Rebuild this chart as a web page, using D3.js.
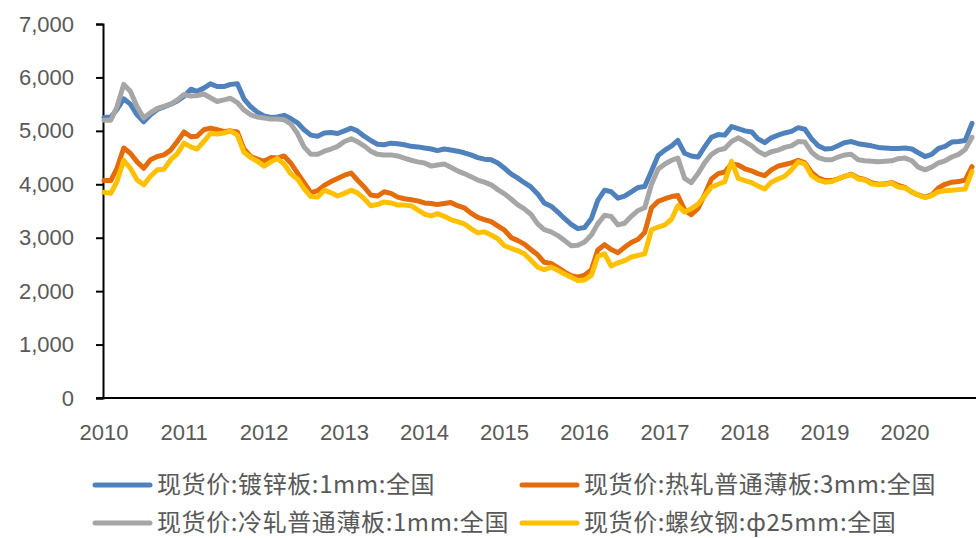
<!DOCTYPE html>
<html>
<head>
<meta charset="utf-8">
<script src="https://cdn.jsdelivr.net/npm/d3@7"></script>
<style>
  html, body { margin: 0; padding: 0; background: #fff; }
  svg { display: block; }
  .tick-label { font-family: "Liberation Sans", Arial, sans-serif; fill: #595959; }
  .legend-label { font-family: "Noto Sans CJK SC", sans-serif; fill: #595959; letter-spacing: 0.6px; }
</style>
</head>
<body>
<svg id="chart" width="976" height="538"></svg>
<script>
// Monthly spot prices, Jan 2010 – Nov 2020 (yuan/ton)
const startMonth = new Date(2010, 0, 1);
const endMonth = new Date(2020, 10, 1);
const months = d3.timeMonth.range(startMonth, d3.timeMonth.offset(endMonth, 1));

const seriesNames = [
  "现货价:镀锌板:1mm:全国",
  "现货价:热轧普通薄板:3mm:全国",
  "现货价:冷轧普通薄板:1mm:全国",
  "现货价:螺纹钢:ф25mm:全国"
];

const galvanized = [
  5250,5260,5400,5600,5500,5300,5170,5300,5400,5450,5500,5560,
  5650,5780,5740,5800,5880,5830,5830,5870,5880,5600,5450,5350,
  5280,5250,5260,5290,5230,5150,5020,4920,4900,4960,4970,4950,
  5000,5050,5000,4900,4820,4750,4740,4770,4760,4740,4710,4700,
  4680,4660,4630,4660,4640,4620,4590,4550,4500,4470,4460,4400,
  4300,4190,4120,4030,3950,3820,3650,3590,3480,3360,3250,3170,
  3190,3360,3700,3890,3860,3740,3780,3860,3940,3960,4250,4540,
  4640,4720,4820,4580,4530,4510,4700,4880,4930,4920,5080,5040,
  5000,4980,4850,4780,4870,4920,4960,4990,5060,5030,4850,4720,
  4660,4670,4720,4780,4800,4760,4740,4720,4690,4680,4670,4670,
  4680,4660,4590,4520,4560,4670,4710,4790,4800,4820,5140
];

const hotRolled = [
  4070,4070,4300,4680,4580,4420,4300,4460,4520,4550,4640,4800,
  4980,4890,4900,5020,5050,5020,4990,5000,4980,4660,4520,4470,
  4430,4500,4490,4530,4400,4210,4030,3840,3880,3980,4050,4110,
  4170,4210,4080,3950,3800,3780,3860,3830,3760,3730,3710,3690,
  3650,3640,3620,3640,3660,3600,3560,3460,3380,3340,3300,3220,
  3140,3000,2950,2880,2780,2680,2540,2520,2440,2360,2290,2260,
  2300,2400,2770,2870,2780,2720,2820,2910,2970,3100,3560,3680,
  3730,3770,3790,3520,3430,3550,3800,4100,4200,4230,4380,4360,
  4290,4250,4200,4160,4270,4340,4370,4400,4450,4400,4220,4120,
  4070,4070,4100,4150,4190,4120,4090,4030,4000,4010,4030,3980,
  3940,3850,3800,3760,3800,3930,4000,4040,4050,4080,4330
];

const coldRolled = [
  5200,5200,5450,5870,5740,5450,5240,5340,5420,5460,5500,5580,
  5680,5650,5660,5690,5620,5550,5580,5610,5530,5390,5300,5260,
  5240,5220,5220,5210,5130,4950,4700,4560,4560,4620,4660,4710,
  4800,4850,4800,4720,4620,4560,4550,4550,4530,4490,4450,4420,
  4400,4340,4360,4380,4320,4250,4200,4140,4080,4040,3990,3900,
  3820,3720,3620,3540,3440,3260,3150,3110,3040,2950,2850,2860,
  2920,3050,3260,3420,3400,3240,3270,3400,3510,3560,4000,4280,
  4380,4450,4490,4110,4030,4200,4400,4560,4640,4670,4800,4870,
  4800,4720,4620,4550,4610,4640,4690,4720,4800,4790,4600,4500,
  4460,4460,4510,4550,4560,4460,4440,4430,4420,4430,4440,4480,
  4490,4440,4320,4270,4320,4400,4440,4510,4560,4650,4880
];

const rebar = [
  3850,3830,4050,4450,4300,4080,3990,4150,4270,4280,4460,4570,
  4770,4700,4660,4800,4950,4940,4960,5000,4920,4600,4500,4430,
  4340,4420,4480,4380,4200,4100,3920,3770,3760,3890,3840,3780,
  3830,3890,3840,3730,3600,3620,3670,3650,3610,3610,3600,3520,
  3440,3410,3450,3400,3340,3300,3260,3170,3090,3110,3050,2980,
  2850,2800,2760,2700,2580,2450,2400,2450,2390,2320,2260,2200,
  2210,2300,2650,2700,2470,2530,2570,2640,2670,2700,3150,3200,
  3240,3350,3600,3480,3540,3630,3780,3950,4000,4050,4430,4110,
  4070,4030,3970,3910,4040,4100,4150,4270,4420,4380,4160,4080,
  4040,4050,4100,4150,4180,4100,4080,4010,3990,4000,4020,3950,
  3930,3860,3800,3750,3790,3860,3880,3890,3900,3910,4240
];

const yTicks = [0, 1000, 2000, 3000, 4000, 5000, 6000, 7000];
const xTickYears = [2010, 2011, 2012, 2013, 2014, 2015, 2016, 2017, 2018, 2019, 2020];
const colors = ["#4F81BD", "#E46C0A", "#A6A6A6", "#FFC000"];

const svg = d3.select("#chart");
const plot = { left: 104, right: 972, top: 24, bottom: 398 };

const x = d3.scaleTime().domain([startMonth, endMonth]).range([plot.left, plot.right]);
const y = d3.scaleLinear().domain([0, 7000]).range([plot.bottom, plot.top]);

// y axis
const yAxis = d3.axisLeft(y).tickValues(yTicks).tickSize(7).tickPadding(22)
  .tickFormat(d3.format(","));
const gy = svg.append("g").attr("transform", `translate(${plot.left - 1},0)`).call(yAxis);
gy.select(".domain").attr("stroke", "#000").attr("stroke-width", 2);
gy.selectAll(".tick line").attr("stroke", "#000").attr("stroke-width", 2);
gy.selectAll(".tick text").attr("class", "tick-label").style("font-size", "22px");

// x axis: baseline only, year labels under January of each year
svg.append("line")
  .attr("x1", plot.left - 8).attr("x2", 976)
  .attr("y1", plot.bottom).attr("y2", plot.bottom)
  .attr("stroke", "#000").attr("stroke-width", 2);

svg.append("g").selectAll("text").data(xTickYears).join("text")
  .attr("class", "tick-label")
  .attr("x", d => x(new Date(d, 0, 1)))
  .attr("y", 440)
  .attr("text-anchor", "middle")
  .style("font-size", "22px")
  .text(d => d);

// series lines
const seriesValues = [galvanized, hotRolled, coldRolled, rebar];
const line = d3.line().x((d, i) => x(months[i])).y(d => y(d));

svg.append("g").selectAll("path").data(seriesValues).join("path")
  .attr("d", d => line(d))
  .attr("fill", "none")
  .attr("stroke", (d, i) => colors[i])
  .attr("stroke-width", 5)
  .attr("stroke-linejoin", "round")
  .attr("stroke-linecap", "round");

// legend: two rows, two columns
const legendPos = [
  { x: 95, y: 485 }, { x: 522, y: 485 },
  { x: 95, y: 523 }, { x: 522, y: 523 }
];
const legend = svg.append("g").selectAll("g").data(seriesNames).join("g")
  .attr("transform", (d, i) => `translate(${legendPos[i].x},${legendPos[i].y})`);
legend.append("line")
  .attr("x1", 0).attr("x2", 55).attr("y1", 0).attr("y2", 0)
  .attr("stroke", (d, i) => colors[i])
  .attr("stroke-width", 5)
  .attr("stroke-linecap", "round");
legend.append("text")
  .attr("class", "legend-label")
  .attr("x", 62).attr("y", 0).attr("dy", "0.35em")
  .style("font-size", "24px")
  .text(d => d);
</script>
</body>
</html>
